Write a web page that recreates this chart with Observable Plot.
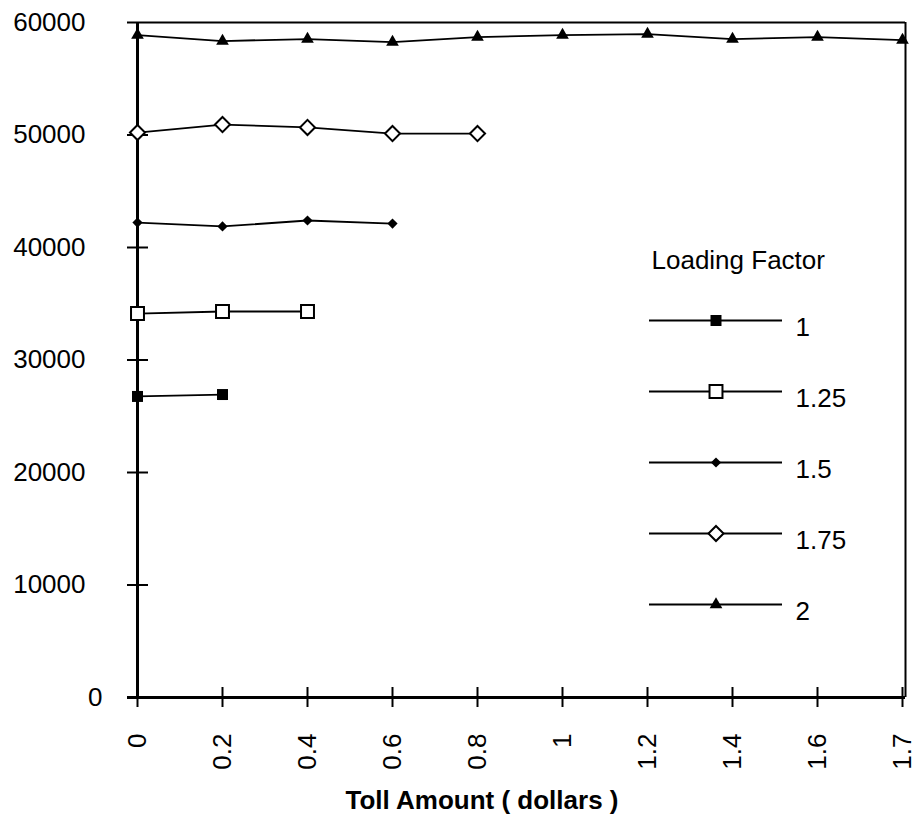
<!DOCTYPE html>
<html>
<head>
<meta charset="utf-8">
<script src="https://cdn.jsdelivr.net/npm/d3@7"></script>
<script src="https://cdn.jsdelivr.net/npm/@observablehq/plot@0.6"></script>
<style>
  body { margin: 0; background: #fff; }
  #chart { position: relative; width: 916px; height: 824px; }
  #legend { position: absolute; left: 640px; top: 230px; }
</style>
</head>
<body>
<div id="chart"><div id="legend"></div></div>
<script>
// Toll amounts (dollars) along the x axis, evenly spaced categories
const tolls = ["0", "0.2", "0.4", "0.6", "0.8", "1", "1.2", "1.4", "1.6", "1.7"];
// Y axis tick values
const yTicks = [0, 10000, 20000, 30000, 40000, 50000, 60000];
// Loading factors (one series each)
const factors = ["1", "1.25", "1.5", "1.75", "2"];
// Series values, starting at toll 0
const lf1   = [26760, 26930];
const lf125 = [34130, 34310, 34310];
const lf15  = [42220, 41870, 42400, 42130];
const lf175 = [50220, 50930, 50670, 50130, 50130];
const lf2   = [58880, 58350, 58530, 58260, 58700, 58880, 58970, 58530, 58700, 58440];
const axisTitle = "Toll Amount ( dollars )";
const legendTitle = "Loading Factor";

const seriesValues = [lf1, lf125, lf15, lf175, lf2];
const rows = factors.flatMap((f, i) =>
  seriesValues[i].map((v, j) => ({ factor: f, toll: tolls[j], value: v }))
);

// Marker appearance per loading factor
const markerStyle = {
  "1":    { symbol: "square",   r: 6.2, fill: "black", stroke: "none" },
  "1.25": { symbol: "square",   r: 7.3, fill: "white", stroke: "black", strokeWidth: 2 },
  "1.5":  { symbol: "diamond2", r: 4.6, fill: "black", stroke: "none" },
  "1.75": { symbol: "diamond2", r: 6.8, fill: "white", stroke: "black", strokeWidth: 2 },
  "2":    { symbol: "triangle", r: 4.7, fill: "black", stroke: "none" }
};

const font = "Arial, 'Liberation Sans', sans-serif";

const dotMarks = factors.map(f =>
  Plot.dot(rows.filter(d => d.factor === f), { x: "toll", y: "value", ...markerStyle[f] })
);

const chart = Plot.plot({
  width: 916,
  height: 824,
  marginLeft: 137,
  marginRight: 14,
  marginTop: 22,
  marginBottom: 127,
  style: { fontFamily: font, fontSize: "26px", color: "black", background: "white", overflow: "visible" },
  x: { type: "point", domain: tolls, padding: 0, axis: null },
  y: { domain: [0, 60000], axis: null },
  marks: [
    // frame: top and right thin, left and bottom thick
    Plot.ruleY([60000], { stroke: "black", strokeWidth: 2, insetLeft: -10, insetRight: -3 }),
    Plot.ruleX(["1.7"], { y1: 0, y2: 60000, dx: 3, stroke: "black", strokeWidth: 2 }),
    Plot.ruleX(["0"], { y1: 0, y2: 60000, stroke: "black", strokeWidth: 3 }),
    Plot.ruleY([0], { stroke: "black", strokeWidth: 3, insetLeft: -10, insetRight: -3 }),
    // crossing tick marks
    Plot.tickY(yTicks.slice(1, -1), { y: d => d, stroke: "black", strokeWidth: 2, insetLeft: -10, insetRight: 754 }),
    Plot.tickX(tolls, { x: d => d, stroke: "black", strokeWidth: 2, insetTop: 665, insetBottom: -10 }),
    // tick labels
    Plot.text(yTicks.slice(1), { y: d => d, text: d => String(d), frameAnchor: "left", dx: -52, textAnchor: "end" }),
    Plot.text(yTicks.slice(0, 1), { y: d => d, text: d => String(d), frameAnchor: "left", dx: -35, textAnchor: "end" }),
    Plot.text(tolls, { x: d => d, text: d => d, frameAnchor: "bottom", dy: 36, rotate: -90, textAnchor: "end", lineAnchor: "middle" }),
    Plot.text([axisTitle], { text: d => d, frameAnchor: "bottom", dx: -38, dy: 111, fontWeight: "bold" }),
    // series
    Plot.line(rows, { x: "toll", y: "value", z: "factor", stroke: "black", strokeWidth: 1.8 }),
    ...dotMarks
  ]
});
document.getElementById("chart").prepend(chart);

// Legend: a short line with the series marker and its label
const legend = Plot.plot({
  width: 260,
  height: 400,
  marginLeft: 9,
  marginRight: 118,
  marginTop: 89,
  marginBottom: 25,
  style: { fontFamily: font, fontSize: "26px", color: "black", background: "transparent", overflow: "visible" },
  x: { domain: [0, 1], axis: null },
  y: { type: "point", domain: factors, padding: 0, axis: null },
  marks: [
    Plot.ruleY(factors, { y: d => d, x1: 0, x2: 1, stroke: "black", strokeWidth: 1.8 }),
    ...factors.map(f => Plot.dot([f], { x: 0.5, y: d => d, ...markerStyle[f] })),
    Plot.text(factors, { y: d => d, x: 1, text: d => d, dx: 13, dy: 7, textAnchor: "start" }),
    Plot.text([legendTitle], { text: d => d, frameAnchor: "top-left", dx: 2, dy: -69, textAnchor: "start" })
  ]
});
document.getElementById("legend").append(legend);
</script>
</body>
</html>
